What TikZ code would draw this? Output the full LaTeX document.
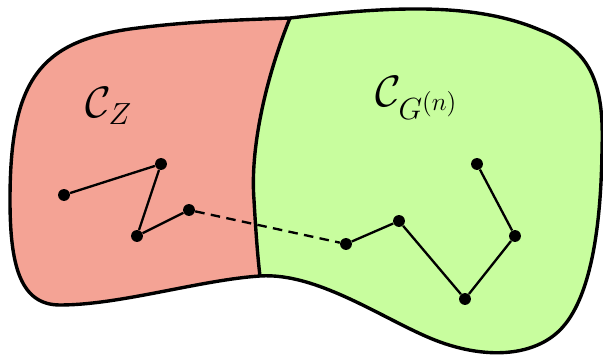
\documentclass[tikz,border=0pt]{standalone}
\usepackage{amsmath}
\definecolor{zred}{RGB}{244,163,149}
\definecolor{ggreen}{RGB}{200,253,158}

\begin{document}
\begin{tikzpicture}[
    x=0.1658mm, y=-0.1658mm,
    dot/.style={circle, fill=black, inner sep=0pt, minimum size=5.6pt},
    walk/.style={line width=1.1pt},
    link/.style={line width=1.1pt, dash pattern=on 4.5pt off 3pt},
    border/.style={line width=1.6pt},
    lbl/.style={font=\huge}
]
\useasboundingbox (0,0) rectangle (603,356);
\coordinate (top) at (290,18);
\coordinate (bot) at (260,276);

% the two regions
\fill[ggreen] (top) .. controls (380,8) and (470,0) .. (540,30)
    .. controls (595,50) and (604,90) .. (602,150)
    .. controls (601,230) and (590,300) .. (560,330)
    .. controls (535,355) and (490,360) .. (440,342)
    .. controls (390,324) and (320,272) .. (bot)
    .. controls (200,280) and (120,305) .. (60,305)
    .. controls (20,305) and (10,265) .. (10,200)
    .. controls (10,80) and (40,42) .. (130,29)
    .. controls (190,21) and (240,20) .. (top) -- cycle;
\fill[zred] (top) .. controls (265,80) and (250,150) .. (254,200)
    .. controls (256,235) and (258,260) .. (bot)
    .. controls (200,280) and (120,305) .. (60,305)
    .. controls (20,305) and (10,265) .. (10,200)
    .. controls (10,80) and (40,42) .. (130,29)
    .. controls (190,21) and (240,20) .. (top) -- cycle;
\draw[border] (top) .. controls (380,8) and (470,0) .. (540,30)
    .. controls (595,50) and (604,90) .. (602,150)
    .. controls (601,230) and (590,300) .. (560,330)
    .. controls (535,355) and (490,360) .. (440,342)
    .. controls (390,324) and (320,272) .. (bot)
    .. controls (200,280) and (120,305) .. (60,305)
    .. controls (20,305) and (10,265) .. (10,200)
    .. controls (10,80) and (40,42) .. (130,29)
    .. controls (190,21) and (240,20) .. (top) -- cycle;
\draw[border] (top) .. controls (265,80) and (250,150) .. (254,200)
    .. controls (256,235) and (258,260) .. (bot);

\node[lbl] (cz) at (109,106) {$\mathcal{C}_Z$};
\node[lbl] (cg) at (417,98) {$\mathcal{C}_{G^{(n)}}$};

% walk in C_Z
\node[dot] (z1) at (64,195) {};
\node[dot] (z2) at (161,164) {};
\node[dot] (z3) at (137,236) {};
\node[dot] (z4) at (189,210) {};
% walk in C_G
\node[dot] (g1) at (346,244) {};
\node[dot] (g2) at (399,221) {};
\node[dot] (g3) at (465,299) {};
\node[dot] (g4) at (515,236) {};
\node[dot] (g5) at (477,164) {};

\draw[walk] (z1) -- (z2) -- (z3) -- (z4);
\draw[walk] (g1) -- (g2) -- (g3) -- (g4) -- (g5);
\draw[link] (z4) -- (g1);
\end{tikzpicture}
\end{document}
